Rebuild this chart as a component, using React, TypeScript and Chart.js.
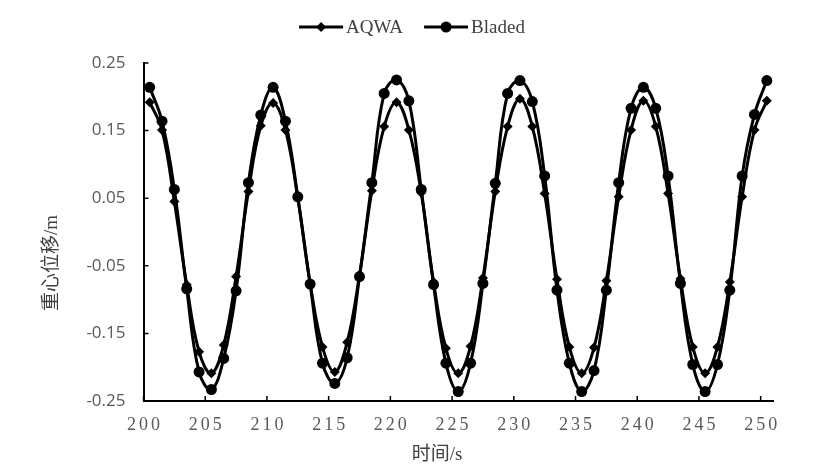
import { useEffect, useRef } from "react";
import { Chart, registerables } from "chart.js";

Chart.register(...registerables);

// time of each sample (s)
const times = [
  200.5, 201.5, 202.5, 203.5, 204.5, 205.5, 206.5, 207.5, 208.5, 209.5,
  210.5, 211.5, 212.5, 213.5, 214.5, 215.5, 216.5, 217.5, 218.5, 219.5,
  220.5, 221.5, 222.5, 223.5, 224.5, 225.5, 226.5, 227.5, 228.5, 229.5,
  230.5, 231.5, 232.5, 233.5, 234.5, 235.5, 236.5, 237.5, 238.5, 239.5,
  240.5, 241.5, 242.5, 243.5, 244.5, 245.5, 246.5, 247.5, 248.5, 249.5,
  250.5,
];

const aqwa = [
  0.192, 0.151, 0.045, -0.078, -0.177, -0.209, -0.167, -0.066, 0.06, 0.157,
  0.191, 0.151, 0.05, -0.076, -0.17, -0.207, -0.163, -0.064, 0.061, 0.156,
  0.192, 0.151, 0.058, -0.074, -0.172, -0.209, -0.169, -0.068, 0.06, 0.156,
  0.197, 0.156, 0.057, -0.07, -0.17, -0.209, -0.171, -0.072, 0.052, 0.151,
  0.194, 0.156, 0.057, -0.069, -0.17, -0.209, -0.17, -0.074, 0.052, 0.151,
  0.194,
];

const bladed = [
  0.214, 0.164, 0.063, -0.084, -0.207, -0.233, -0.187, -0.087, 0.073, 0.173,
  0.214, 0.164, 0.052, -0.077, -0.194, -0.224, -0.186, -0.066, 0.073, 0.205,
  0.225, 0.194, 0.063, -0.078, -0.194, -0.236, -0.194, -0.076, 0.072, 0.205,
  0.224, 0.193, 0.083, -0.086, -0.194, -0.236, -0.205, -0.086, 0.073, 0.183,
  0.214, 0.183, 0.083, -0.076, -0.196, -0.236, -0.196, -0.086, 0.083, 0.174,
  0.224,
];

const seriesNames = ["AQWA", "Bladed"];
const xTicks = [200, 205, 210, 215, 220, 225, 230, 235, 240, 245, 250];
const yTicks = [-0.25, -0.15, -0.05, 0.05, 0.15, 0.25];
const xTitle = "时间/s";
const yTitle = "重心位移/m";

const serif = '"Liberation Serif", "Noto Sans CJK SC", serif';

function marker(ctx: CanvasRenderingContext2D, style: string, x: number, y: number, r: number) {
  ctx.beginPath();
  if (style === "rectRot") {
    ctx.moveTo(x, y - r);
    ctx.lineTo(x + r, y);
    ctx.lineTo(x, y + r);
    ctx.lineTo(x - r, y);
    ctx.closePath();
  } else {
    ctx.arc(x, y, r, 0, Math.PI * 2);
  }
  ctx.fill();
}

// inside tick marks, shifted axis titles, spaced x labels and the legend
const decorPlugin = {
  id: "decor",
  beforeDatasetsDraw(chart: any) {
    const { ctx, chartArea, scales } = chart;
    ctx.save();
    ctx.strokeStyle = "#000";
    ctx.lineWidth = 1.5;
    ctx.beginPath();
    xTicks.forEach((v) => {
      const px = scales.x.getPixelForValue(v);
      ctx.moveTo(px, chartArea.bottom);
      ctx.lineTo(px, chartArea.bottom - 5);
    });
    yTicks.forEach((v) => {
      const py = scales.y.getPixelForValue(v);
      ctx.moveTo(chartArea.left, py);
      ctx.lineTo(chartArea.left + 5, py);
    });
    ctx.stroke();
    ctx.restore();
  },
  afterDraw(chart: any) {
    const { ctx, scales } = chart;
    ctx.save();

    // x tick labels
    ctx.fillStyle = "#595959";
    ctx.font = `18px ${serif}`;
    (ctx as any).letterSpacing = "3px";
    ctx.textAlign = "center";
    ctx.textBaseline = "middle";
    xTicks.forEach((v) => {
      ctx.fillText(String(v), scales.x.getPixelForValue(v) + 1.5, 425);
    });
    (ctx as any).letterSpacing = "0px";

    // axis titles
    ctx.fillStyle = "#404040";
    ctx.font = `19px ${serif}`;
    ctx.fillText(xTitle, 437, 455);
    ctx.save();
    ctx.translate(52, 263);
    ctx.rotate(-Math.PI / 2);
    ctx.fillText(yTitle, 0, 0);
    ctx.restore();

    // legend
    const sampleW = 44;
    const textGap = 3;
    const itemGap = 21;
    const sets = chart.data.datasets;
    const widths = sets.map((d: any) => ctx.measureText(d.label).width);
    const total =
      sets.length * (sampleW + textGap) + widths.reduce((a: number, b: number) => a + b, 0) + itemGap * (sets.length - 1);
    let lx = 412 - total / 2;
    const ly = 27;
    ctx.textAlign = "left";
    sets.forEach((d: any, i: number) => {
      ctx.strokeStyle = "#000";
      ctx.fillStyle = "#000";
      ctx.lineWidth = 3;
      ctx.beginPath();
      ctx.moveTo(lx, ly);
      ctx.lineTo(lx + sampleW, ly);
      ctx.stroke();
      marker(ctx, d.pointStyle, lx + sampleW / 2, ly, d.pointRadius);
      ctx.fillStyle = "#404040";
      ctx.fillText(d.label, lx + sampleW + textGap, ly + 1);
      lx += sampleW + textGap + widths[i] + itemGap;
    });

    ctx.restore();
  },
};

export default function App() {
  const chartRef = useRef<HTMLCanvasElement>(null);
  const chartInstance = useRef<Chart | null>(null);

  useEffect(() => {
    document.body.style.margin = "0";
    if (!chartRef.current) return;
    if (chartInstance.current) chartInstance.current.destroy();

    const ctx = chartRef.current.getContext("2d");
    if (!ctx) return;

    chartInstance.current = new Chart(ctx, {
      type: "line",
      data: {
        datasets: [
          {
            label: seriesNames[0],
            data: times.map((t, i) => ({ x: t, y: aqwa[i] })),
            borderColor: "#000",
            backgroundColor: "#000",
            borderWidth: 3,
            pointStyle: "rectRot",
            pointRadius: 5,
            pointBorderWidth: 0,
            tension: 0.4,
            order: 1,
          },
          {
            label: seriesNames[1],
            data: times.map((t, i) => ({ x: t, y: bladed[i] })),
            borderColor: "#000",
            backgroundColor: "#000",
            borderWidth: 3,
            pointStyle: "circle",
            pointRadius: 5.5,
            pointBorderWidth: 0,
            tension: 0.4,
            order: 0,
          },
        ],
      },
      options: {
        responsive: true,
        maintainAspectRatio: false,
        animation: false,
        layout: {
          padding: { top: 63, right: 66, bottom: 0, left: 0 },
        },
        scales: {
          x: {
            type: "linear",
            min: 200,
            max: 251,
            afterBuildTicks: (scale: any) => {
              scale.ticks = xTicks.map((v) => ({ value: v }));
            },
            afterFit: (scale: any) => {
              scale.height = 73;
            },
            ticks: { display: false },
            grid: { display: false, drawTicks: false },
            border: { color: "#000", width: 2 },
          },
          y: {
            type: "linear",
            min: -0.25,
            max: 0.25,
            afterBuildTicks: (scale: any) => {
              scale.ticks = yTicks.map((v) => ({ value: v }));
            },
            afterFit: (scale: any) => {
              scale.width = 143.5;
            },
            ticks: {
              color: "#595959",
              padding: 18,
              font: { family: "Open Sans", size: 17 },
              callback: (value) => Number(value).toFixed(2),
            },
            grid: { display: false, drawTicks: false },
            border: { color: "#000", width: 2 },
          },
        },
        plugins: {
          legend: { display: false },
          tooltip: { enabled: false },
        },
      },
      plugins: [decorPlugin],
    });

    return () => {
      if (chartInstance.current) {
        chartInstance.current.destroy();
        chartInstance.current = null;
      }
    };
  }, []);

  return (
    <div style={{ position: "relative", width: 839, height: 474 }}>
      <canvas ref={chartRef} />
    </div>
  );
}
